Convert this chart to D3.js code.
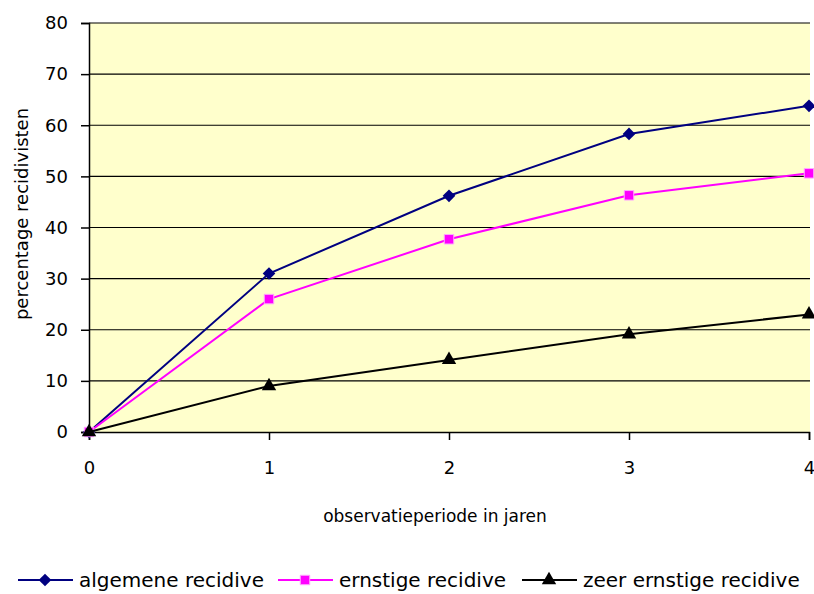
<!DOCTYPE html>
<html lang="en">
<head>
<meta charset="UTF-8">
<title>Recidive</title>
<script src="https://d3js.org/d3.v7.min.js"></script>
<style>
  body { margin: 0; background: #fff; }
  svg text { font-family: "DejaVu Sans", "Liberation Sans", sans-serif; fill: #000; }
</style>
</head>
<body>
<script>
// data
var years = [0, 1, 2, 3, 4];
var algemene = [0, 31, 46.2, 58.3, 63.8];
var ernstige = [0, 26, 37.7, 46.3, 50.6];
var zeerErnstig = [0, 9, 14.1, 19.1, 23];
var yTicks = [0, 10, 20, 30, 40, 50, 60, 70, 80];
var seriesNames = ["algemene recidive", "ernstige recidive", "zeer ernstige recidive"];

var W = 814, H = 594;
var plotL = 89, plotR = 809, plotT = 23, plotB = 432;

var svg = d3.select("body").append("svg")
  .attr("width", W)
  .attr("height", H);

var x = d3.scaleLinear().domain([0, 4]).range([plotL, plotR]);
var y = d3.scaleLinear().domain([0, 80]).range([plotB, plotT]);

// plot background
svg.append("rect")
  .attr("x", plotL).attr("y", plotT)
  .attr("width", plotR - plotL + 1).attr("height", plotB - plotT)
  .attr("fill", "#ffffcc");

// gridlines
svg.selectAll("line.grid")
  .data(yTicks.filter(function(d) { return d > 0; }))
  .enter().append("line")
  .attr("class", "grid")
  .attr("x1", plotL).attr("x2", plotR + 1)
  .attr("y1", function(d) { return y(d); })
  .attr("y2", function(d) { return y(d); })
  .attr("stroke", "#000").attr("stroke-width", 1.2);

// axes
var yAxis = d3.axisLeft(y).tickValues(yTicks).tickFormat(d3.format("d")).tickSize(8).tickPadding(13);
var gy = svg.append("g").attr("transform", "translate(" + plotL + ",0)").call(yAxis);
gy.selectAll("text").style("font-size", "18px");

var xAxis = d3.axisBottom(x).tickValues(years).tickFormat(d3.format("d")).tickSize(8).tickPadding(21);
var gx = svg.append("g").attr("transform", "translate(0," + plotB + ")").call(xAxis);
gx.selectAll("text").style("font-size", "18px");

svg.selectAll(".domain").attr("stroke", "#000").attr("stroke-width", 1.5);
svg.selectAll(".tick line").attr("stroke", "#000").attr("stroke-width", 1.5);

// axis titles
svg.append("text")
  .attr("x", (plotL + plotR) / 2 - 14).attr("y", 522)
  .attr("text-anchor", "middle")
  .style("font-size", "17px")
  .text("observatieperiode in jaren");

svg.append("text")
  .attr("transform", "translate(28,214) rotate(-90)")
  .attr("text-anchor", "middle")
  .style("font-size", "18px")
  .text("percentage recidivisten");

var line = d3.line()
  .x(function(d, i) { return x(years[i]); })
  .y(function(d) { return y(d); });

var series = [
  { name: seriesNames[0], values: algemene, color: "#000080", symbol: d3.symbolSquare, size: 80, rot: 45, edge: "none" },
  { name: seriesNames[1], values: ernstige, color: "#ff00ff", symbol: d3.symbolSquare, size: 90, rot: 0, edge: "#ffaaff" },
  { name: seriesNames[2], values: zeerErnstig, color: "#000000", symbol: d3.symbolTriangle, size: 90, rot: 0, edge: "none" }
];

series.forEach(function(s) {
  svg.append("path")
    .datum(s.values)
    .attr("d", line)
    .attr("fill", "none")
    .attr("stroke", s.color)
    .attr("stroke-width", 2);

  svg.selectAll(null)
    .data(s.values)
    .enter().append("path")
    .attr("transform", function(d, i) { return "translate(" + x(years[i]) + "," + y(d) + ") rotate(" + s.rot + ")"; })
    .attr("d", d3.symbol().type(s.symbol).size(s.size))
    .attr("fill", s.color)
    .attr("stroke", s.edge)
    .attr("stroke-width", 1);
});

// legend
var legendX = [18, 278, 522];
var legendY = 580;
series.forEach(function(s, i) {
  var g = svg.append("g").attr("transform", "translate(" + legendX[i] + "," + legendY + ")");
  g.append("line").attr("x1", 0).attr("x2", 55).attr("y1", 0).attr("y2", 0)
    .attr("stroke", s.color).attr("stroke-width", 2);
  g.append("path").attr("transform", "translate(27,0) rotate(" + s.rot + ")")
    .attr("d", d3.symbol().type(s.symbol).size(s.size))
    .attr("fill", s.color)
    .attr("stroke", s.edge);
  g.append("text").attr("x", 61).attr("y", 7)
    .style("font-size", "20px")
    .text(s.name);
});
</script>
</body>
</html>
